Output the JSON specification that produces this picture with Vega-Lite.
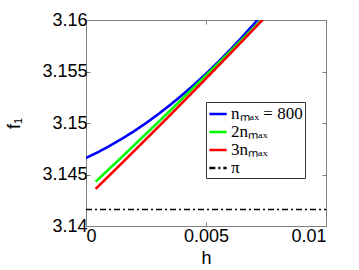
{
  "$schema": "https://vega.github.io/schema/vega-lite/v6.json",
  "width": 240,
  "height": 206,
  "autosize": {"type": "none"},
  "padding": {"left": 86, "top": 20, "right": 33, "bottom": 44},
  "background": "white",
  "config": {
    "view": {"stroke": "#808080", "strokeWidth": 1},
    "axis": {
      "labelFont": "Liberation Sans",
      "titleFont": "Liberation Sans",
      "labelFontSize": 18,
      "titleFontSize": 18,
      "titleFontWeight": "normal",
      "labelColor": "black",
      "titleColor": "black",
      "domainColor": "#808080",
      "tickColor": "#808080",
      "grid": false
    },
    "legend": {
      "orient": "none",
      "legendX": 120,
      "legendY": 82,
      "labelFont": "Liberation Serif",
      "labelFontSize": 17,
      "labelColor": "black",
      "symbolType": "stroke",
      "symbolSize": 300,
      "symbolStrokeWidth": 2.6,
      "strokeColor": "#333333",
      "fillColor": "white",
      "padding": 2,
      "rowPadding": -1,
      "labelOffset": 3
    }
  },
  "datasets": {
    "curves": [
      {"h": 0.0, "f": 3.1466, "series": "nₘₐₓ = 800"},
      {"h": 0.0005, "f": 3.14717, "series": "nₘₐₓ = 800"},
      {"h": 0.001, "f": 3.14779, "series": "nₘₐₓ = 800"},
      {"h": 0.0015, "f": 3.14847, "series": "nₘₐₓ = 800"},
      {"h": 0.002, "f": 3.1492, "series": "nₘₐₓ = 800"},
      {"h": 0.0025, "f": 3.14999, "series": "nₘₐₓ = 800"},
      {"h": 0.003, "f": 3.15084, "series": "nₘₐₓ = 800"},
      {"h": 0.0035, "f": 3.15174, "series": "nₘₐₓ = 800"},
      {"h": 0.004, "f": 3.1527, "series": "nₘₐₓ = 800"},
      {"h": 0.0045, "f": 3.15371, "series": "nₘₐₓ = 800"},
      {"h": 0.005, "f": 3.15478, "series": "nₘₐₓ = 800"},
      {"h": 0.0055, "f": 3.15591, "series": "nₘₐₓ = 800"},
      {"h": 0.006, "f": 3.15709, "series": "nₘₐₓ = 800"},
      {"h": 0.0065, "f": 3.15833, "series": "nₘₐₓ = 800"},
      {"h": 0.007, "f": 3.15962, "series": "nₘₐₓ = 800"},
      {"h": 0.0075, "f": 3.16097, "series": "nₘₐₓ = 800"},
      {"h": 0.0004, "f": 3.1443, "series": "2nₘₐₓ"},
      {"h": 0.0005, "f": 3.14452, "series": "2nₘₐₓ"},
      {"h": 0.001, "f": 3.14562, "series": "2nₘₐₓ"},
      {"h": 0.0015, "f": 3.14671, "series": "2nₘₐₓ"},
      {"h": 0.002, "f": 3.14783, "series": "2nₘₐₓ"},
      {"h": 0.0025, "f": 3.14895, "series": "2nₘₐₓ"},
      {"h": 0.003, "f": 3.15006, "series": "2nₘₐₓ"},
      {"h": 0.0035, "f": 3.15119, "series": "2nₘₐₓ"},
      {"h": 0.004, "f": 3.15233, "series": "2nₘₐₓ"},
      {"h": 0.0045, "f": 3.15347, "series": "2nₘₐₓ"},
      {"h": 0.005, "f": 3.15462, "series": "2nₘₐₓ"},
      {"h": 0.0055, "f": 3.15577, "series": "2nₘₐₓ"},
      {"h": 0.006, "f": 3.15693, "series": "2nₘₐₓ"},
      {"h": 0.0065, "f": 3.1581, "series": "2nₘₐₓ"},
      {"h": 0.007, "f": 3.15926, "series": "2nₘₐₓ"},
      {"h": 0.0075, "f": 3.16045, "series": "2nₘₐₓ"},
      {"h": 0.0004, "f": 3.1436, "series": "3nₘₐₓ"},
      {"h": 0.0005, "f": 3.14383, "series": "3nₘₐₓ"},
      {"h": 0.001, "f": 3.14497, "series": "3nₘₐₓ"},
      {"h": 0.0015, "f": 3.14611, "series": "3nₘₐₓ"},
      {"h": 0.002, "f": 3.14727, "series": "3nₘₐₓ"},
      {"h": 0.0025, "f": 3.14843, "series": "3nₘₐₓ"},
      {"h": 0.003, "f": 3.14959, "series": "3nₘₐₓ"},
      {"h": 0.0035, "f": 3.15076, "series": "3nₘₐₓ"},
      {"h": 0.004, "f": 3.15194, "series": "3nₘₐₓ"},
      {"h": 0.0045, "f": 3.15313, "series": "3nₘₐₓ"},
      {"h": 0.005, "f": 3.15432, "series": "3nₘₐₓ"},
      {"h": 0.0055, "f": 3.15552, "series": "3nₘₐₓ"},
      {"h": 0.006, "f": 3.15672, "series": "3nₘₐₓ"},
      {"h": 0.0065, "f": 3.15793, "series": "3nₘₐₓ"},
      {"h": 0.007, "f": 3.15914, "series": "3nₘₐₓ"},
      {"h": 0.0075, "f": 3.16037, "series": "3nₘₐₓ"}
    ],
    "pi": [
      {"h": 0.0, "f": 3.14159, "series": "π"},
      {"h": 0.01, "f": 3.14159, "series": "π"}
    ]
  },
  "layer": [
    {
      "data": {"name": "curves"},
      "mark": {"type": "line", "strokeWidth": 2.6, "clip": true},
      "encoding": {
        "x": {"field": "h", "type": "quantitative", "scale": {"domain": [0, 0.01], "nice": false}, "axis": {"values": [0, 0.005, 0.01], "format": "~g", "title": "h", "tickSize": -4, "labelPadding": 5, "titlePadding": 4, "domain": false}},
        "y": {"field": "f", "type": "quantitative", "scale": {"domain": [3.14, 3.16], "nice": false, "zero": false}, "axis": {"values": [3.14, 3.145, 3.15, 3.155, 3.16], "format": ".4~g", "title": "f₁", "tickSize": -4, "labelPadding": 3, "titlePadding": 18, "domain": false}},
        "color": {"field": "series", "type": "nominal", "sort": null, "scale": {"domain": ["nₘₐₓ = 800", "2nₘₐₓ", "3nₘₐₓ", "π"], "range": ["#0000ff", "#00ff00", "#ff0000", "#000000"]}, "legend": {"title": null, "values": ["nₘₐₓ = 800", "2nₘₐₓ", "3nₘₐₓ", "π"]}},
        "strokeDash": {"field": "series", "type": "nominal", "sort": null, "scale": {"domain": ["nₘₐₓ = 800", "2nₘₐₓ", "3nₘₐₓ", "π"], "range": [[1, 0], [1, 0], [1, 0], [6, 3, 2, 3]]}, "legend": {"title": null, "values": ["nₘₐₓ = 800", "2nₘₐₓ", "3nₘₐₓ", "π"]}}
      }
    },
    {
      "data": {"name": "pi"},
      "mark": {"type": "line", "strokeWidth": 1.5, "clip": true},
      "encoding": {
        "x": {"field": "h", "type": "quantitative", "axis": {"orient": "top", "values": [0, 0.005, 0.01], "labels": false, "title": null, "tickSize": -4, "domain": false}},
        "y": {"field": "f", "type": "quantitative", "axis": {"orient": "right", "values": [3.14, 3.145, 3.15, 3.155, 3.16], "labels": false, "title": null, "tickSize": -4, "domain": false}},
        "color": {"field": "series", "type": "nominal", "sort": null},
        "strokeDash": {"field": "series", "type": "nominal", "sort": null}
      }
    }
  ],
  "resolve": {"axis": {"x": "independent", "y": "independent"}}
}
